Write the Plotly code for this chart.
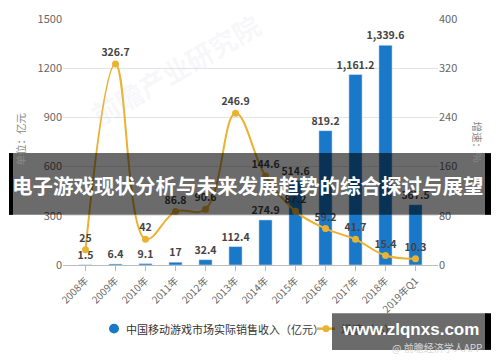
import plotly.graph_objects as go

categories = ["2008年", "2009年", "2010年", "2011年", "2012年", "2013年", "2014年",
              "2015年", "2016年", "2017年", "2018年", "2019年Q1"]
revenue = [1.5, 6.4, 9.1, 17, 32.4, 112.4, 274.9, 514.6, 819.2, 1161.2, 1339.6, 367.5]
growth = [25, 326.7, 42, 86.8, 90.6, 246.9, 144.6, 87.2, 59.2, 41.7, 15.4, 10.3]
left_ticks = [0, 300, 600, 900, 1200, 1500]
right_ticks = [0, 80, 160, 240, 320, 400]

title_text = "电子游戏现状分析与未来发展趋势的综合探讨与展望"
bar_name = "中国移动游戏市场实际销售收入（亿元）"
line_name = "增速（%）"

BLUE = "#1A78C8"
GOLD = "#E9B232"
FONT = "Noto Sans CJK SC"

W, H = 500, 362
L, R, T, B = 63, 62, 10, 97
PW, PH = W - L - R, H - T - B


def px(x):
    return (x - L) / PW


def py(y):
    return (H - B - y) / PH


fig = go.Figure()

fig.add_trace(go.Bar(
    x=categories, y=revenue, marker_color=BLUE, width=0.44,
    text=[f"{v:,}" for v in revenue], textposition="outside", constraintext="none",
    textfont=dict(family=FONT, size=10.5, color="#444444", weight="bold"),
    cliponaxis=False, showlegend=False, yaxis="y", name=bar_name,
))
fig.add_trace(go.Scatter(
    x=categories, y=growth, mode="lines+markers+text", name=line_name,
    line=dict(color=GOLD, width=2, shape="spline", smoothing=1.1),
    marker=dict(size=7, color=GOLD),
    text=[f"{v:,}" for v in growth], textposition="top center",
    textfont=dict(family=FONT, size=10.5, color="#444444", weight="bold"),
    cliponaxis=False, yaxis="y2", showlegend=False,
))


def rect(x0, x1, y0, y1, color, kind="rect"):
    return dict(type=kind, xref="paper", yref="paper", x0=px(x0), x1=px(x1),
                y0=py(y1), y1=py(y0), fillcolor=color, line=dict(width=0), layer="above")


shapes = [
    # legend symbols
    rect(109, 119, 326, 336, BLUE, "circle"),
    dict(type="line", xref="paper", yref="paper", x0=px(317), x1=px(335), y0=py(331), y1=py(331),
         line=dict(color=GOLD, width=2.5), layer="above"),
    rect(322.5, 329.5, 327.5, 334.5, GOLD, "circle"),
    # title banner
    rect(9, 486, 149, 213, "rgba(0,0,0,0.58)"),
    rect(9, 13, 149, 213, "#000000"),
    rect(485, 491, 149, 213, "#000000"),
    # site watermark box
    rect(332, 486, 315, 353, "rgba(0,0,0,0.58)"),
    rect(485, 491, 315, 353, "#000000"),
]


def note(text, x, y, size, color, angle=0, xanchor="center", weight="normal", family=FONT):
    return dict(text=text, xref="paper", yref="paper", x=px(x), y=py(y), showarrow=False,
                xanchor=xanchor, yanchor="middle", textangle=angle,
                font=dict(family=family, size=size, color=color, weight=weight))


annotations = [
    note("单位：亿元", 21, 135, 10.5, "#888888", angle=-90),
    note("增速：%", 478, 138, 10.5, "#888888", angle=90),
    note("前瞻产业研究院", 175, 62, 27, "rgba(205,210,220,0.17)", angle=-30, weight="bold"),
    note(bar_name, 124, 331, 11, "#333333", xanchor="left"),
    note(line_name, 339, 331, 11, "#333333", xanchor="left"),
    note("@ 前瞻经济学人APP", 484, 351, 10, "#d8d8d8", xanchor="right"),
    note(title_text, 248, 182, 20.5, "#ffffff", weight="bold"),
    note("www.zlqnxs.com", 410, 332, 17, "#ffffff", weight="bold", family="Liberation Sans"),
]

fig.update_layout(
    width=W, height=H, margin=dict(l=L, r=R, t=T, b=B),
    paper_bgcolor="white", plot_bgcolor="white",
    font=dict(family=FONT, size=11, color="#666666"),
    showlegend=False,
    xaxis=dict(range=[-0.75, 11.75], tickangle=-45, showgrid=False, showline=True,
               linecolor="#bbbbbb", linewidth=1, ticks="outside", ticklen=5, tickcolor="#bbbbbb",
               tickfont=dict(family=FONT, size=10, color="#666666")),
    yaxis=dict(range=[0, 1500], tickvals=left_ticks, showgrid=True, gridcolor="#e3e3e3",
               zeroline=False, tickfont=dict(family=FONT, size=11, color="#666666")),
    yaxis2=dict(range=[0, 400], tickvals=right_ticks, overlaying="y", side="right",
                showgrid=False, zeroline=False, tickfont=dict(family=FONT, size=11, color="#666666")),
    shapes=shapes, annotations=annotations,
)

fig.write_html("out.html")
